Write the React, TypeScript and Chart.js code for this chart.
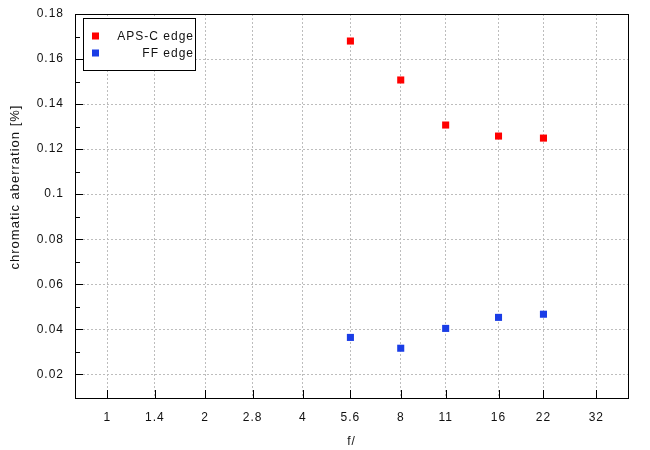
import React, { useEffect, useRef } from "react";
import { Chart, registerables } from "chart.js";

Chart.register(...registerables);

const fNumbers = [5.6, 8, 11, 16, 22];
const apscEdge = [0.168, 0.1507, 0.1307, 0.1258, 0.1249];
const ffEdge = [0.0364, 0.0316, 0.0404, 0.0453, 0.0467];
const xTickValues = [1, 1.4, 2, 2.8, 4, 5.6, 8, 11, 16, 22, 32];
const yTickValues = [0.02, 0.04, 0.06, 0.08, 0.1, 0.12, 0.14, 0.16, 0.18];
const yMinorValues = [0.03, 0.05, 0.07, 0.09, 0.11, 0.13, 0.15, 0.17];
const yTitle = "chromatic aberration [%]";
const xTitle = "f/";

const FONT = "'Liberation Sans', Arial, sans-serif";

const spacingPlugin = {
  id: "spacing",
  beforeDraw(chart: any) {
    chart.ctx.letterSpacing = "1px";
  },
};

const framePlugin = {
  id: "frame",
  afterDraw(chart: any) {
    const { ctx, chartArea: a, scales } = chart;
    const x = scales.x;
    const y = scales.y;
    ctx.save();
    ctx.strokeStyle = "#000";
    ctx.lineWidth = 1;
    ctx.setLineDash([]);
    ctx.beginPath();
    yTickValues.forEach((v) => {
      const py = Math.round(y.getPixelForValue(v)) + 0.5;
      ctx.moveTo(a.left, py);
      ctx.lineTo(a.left + 8, py);
    });
    yMinorValues.forEach((v) => {
      const py = Math.round(y.getPixelForValue(v)) + 0.5;
      ctx.moveTo(a.left, py);
      ctx.lineTo(a.left + 5, py);
    });
    xTickValues.forEach((v) => {
      const px = Math.round(x.getPixelForValue(v)) + 0.5;
      ctx.moveTo(px, a.bottom);
      ctx.lineTo(px, a.bottom - 8);
    });
    ctx.stroke();
    ctx.strokeRect(
      Math.round(a.left) + 0.5,
      Math.round(a.top) + 0.5,
      Math.round(a.right - a.left),
      Math.round(a.bottom - a.top)
    );

    // y axis title
    ctx.save();
    ctx.font = `13px ${FONT}`;
    ctx.letterSpacing = "1px";
    ctx.fillStyle = "#111";
    ctx.textAlign = "center";
    ctx.textBaseline = "middle";
    ctx.translate(15, 187);
    ctx.rotate(-Math.PI / 2);
    ctx.fillText(yTitle, 0, 0);
    ctx.restore();

    // legend
    const lx = 83.5, ly = 18.5, lw = 112, lh = 52;
    ctx.fillStyle = "#fff";
    ctx.fillRect(lx, ly, lw, lh);
    ctx.strokeRect(lx, ly, lw, lh);
    ctx.font = `12px ${FONT}`;
    ctx.letterSpacing = "1px";
    ctx.textAlign = "right";
    ctx.textBaseline = "middle";
    chart.data.datasets.forEach((ds: any, i: number) => {
      const cy = 36 + i * 17;
      ctx.fillStyle = ds.backgroundColor;
      ctx.fillRect(92, cy - 3.5, 7, 7);
      ctx.fillStyle = "#111";
      ctx.fillText(ds.label, 194, cy + 0.5);
    });
    ctx.restore();
  },
};

export default function App() {
  const ref = useRef<HTMLCanvasElement>(null);
  useEffect(() => {
    if (!ref.current) return;
    const chart = new Chart(ref.current, {
      type: "scatter",
      data: {
        datasets: [
          {
            label: "APS-C edge",
            data: fNumbers.map((f, i) => ({ x: f, y: apscEdge[i] })),
            backgroundColor: "#ff0000",
            borderColor: "#ff0000",
            pointStyle: "rect",
            pointRadius: 5,
            borderWidth: 0,
          },
          {
            label: "FF edge",
            data: fNumbers.map((f, i) => ({ x: f, y: ffEdge[i] })),
            backgroundColor: "#1a3de6",
            borderColor: "#1a3de6",
            pointStyle: "rect",
            pointRadius: 5,
            borderWidth: 0,
          },
        ],
      },
      options: {
        animation: false,
        responsive: false,
        maintainAspectRatio: false,
        layout: { padding: { left: 0, top: 14, right: 22, bottom: 0 } },
        plugins: { legend: { display: false }, tooltip: { enabled: false } },
        scales: {
          x: {
            type: "logarithmic",
            min: 0.795,
            max: 40.06,
            afterBuildTicks: (s: any) => {
              s.ticks = xTickValues.map((v) => ({ value: v }));
            },
            afterFit: (s: any) => {
              s.height = 52;
              s.paddingLeft = 0;
              s.paddingRight = 0;
            },
            ticks: {
              autoSkip: false,
              maxRotation: 0,
              padding: 12,
              color: "#111",
              font: { family: FONT, size: 12 },
              callback: (v: any) => String(v),
            },
            grid: { color: "#bdbdbd", drawTicks: false, lineWidth: 1 },
            border: { display: false, dash: [2, 2] },
            title: {
              display: true,
              text: xTitle,
              color: "#111",
              font: { family: FONT, size: 12 },
              padding: { top: 0, bottom: 1 },
            },
          },
          y: {
            type: "linear",
            min: 0.0095,
            max: 0.18,
            afterBuildTicks: (s: any) => {
              s.ticks = yTickValues.map((v) => ({ value: v }));
            },
            afterFit: (s: any) => {
              s.width = 75;
              s.paddingTop = 0;
              s.paddingBottom = 0;
            },
            ticks: {
              padding: 11,
              color: "#111",
              font: { family: FONT, size: 12 },
              callback: (v: any) => String(Math.round(v * 100) / 100),
            },
            grid: { color: "#bdbdbd", drawTicks: false, lineWidth: 1 },
            border: { display: false, dash: [2, 2] },
            title: { display: false },
          },
        },
      },
      plugins: [spacingPlugin, framePlugin],
    });
    return () => chart.destroy();
  }, []);
  return (
    <div style={{ position: "fixed", left: 0, top: 0, width: 650, height: 450, background: "#fff" }}>
      <canvas ref={ref} width={650} height={450} />
    </div>
  );
}
